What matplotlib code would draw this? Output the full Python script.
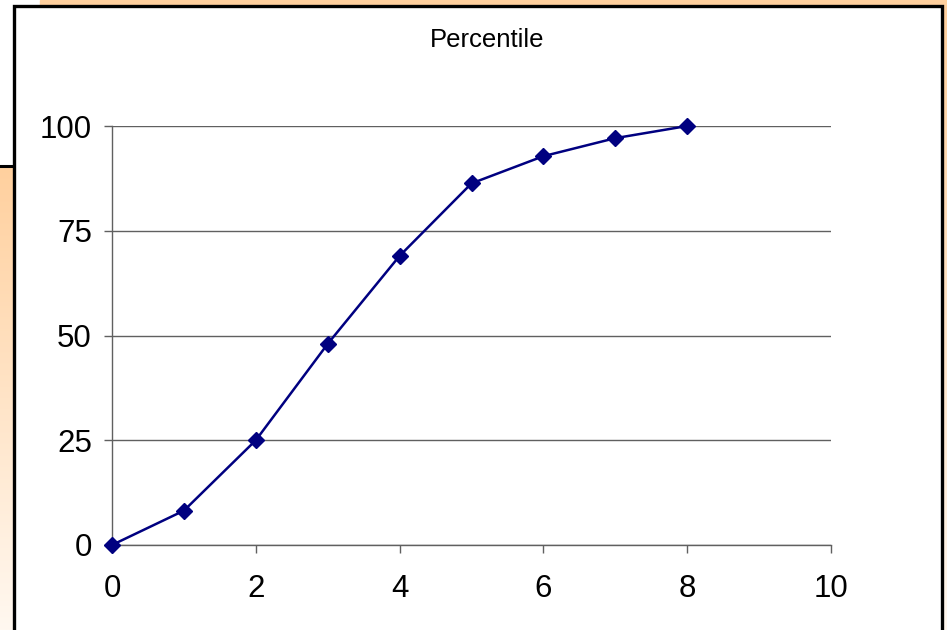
import numpy as np
import matplotlib
matplotlib.use('Agg')
import matplotlib.pyplot as plt
from matplotlib.patches import Rectangle

plt.rcParams['font.family'] = ['Liberation Sans', 'DejaVu Sans']

# 累计百分位数据
x_vals = [0, 1, 2, 3, 4, 5, 6, 7, 8]
percentile = [0, 8.2, 25, 48, 69, 86.3, 92.8, 97.1, 100]
x_ticks = [0, 2, 4, 6, 8, 10]
y_ticks = [0, 25, 50, 75, 100]
title_text = 'Percentile'

W, H = 947, 630
fig = plt.figure(figsize=(W / 100, H / 100), dpi=100, facecolor='white')

# 背景层（幻灯片底色 + 图表边框），按像素坐标画
bg = fig.add_axes([0, 0, 1, 1], zorder=0)
bg.set_xlim(0, W)
bg.set_ylim(H, 0)
bg.axis('off')

orange = '#FFD09E'
grad = np.linspace(0, 1, 256).reshape(-1, 1)
cmap = matplotlib.colors.LinearSegmentedColormap.from_list('fade', [orange, '#FFF8F0'])
bg.imshow(grad, cmap=cmap, extent=[0, 13, H, 166], aspect='auto', zorder=1)
bg.imshow(grad, cmap=cmap, extent=[943, W, H, 0], aspect='auto', zorder=1)
bg.add_patch(Rectangle((40, 0), W - 40, 6, color=orange, zorder=1))
bg.plot([0, 14], [166, 166], color='black', lw=2.2, zorder=2)
bg.add_patch(Rectangle((14, 6), 928, H, facecolor='white', edgecolor='black', lw=2.4, zorder=2))
bg.set_xlim(0, W)
bg.set_ylim(H, 0)

# 主图
ax = fig.add_axes([112 / W, 1 - 545 / H, (831 - 112) / W, (545 - 126) / H], zorder=1)
ax.set_facecolor('none')
ax.plot(x_vals, percentile, color='#000080', lw=1.8, marker='D', markersize=7.8,
        clip_on=False, zorder=3)

ax.set_xlim(0, 10)
ax.set_ylim(0, 100)
ax.set_xticks(x_ticks)
ax.set_yticks(y_ticks)
ax.yaxis.grid(True, color='#606060', lw=1.0)
ax.set_axisbelow(True)

for s in ['top', 'right']:
    ax.spines[s].set_visible(False)
for s in ['left', 'bottom']:
    ax.spines[s].set_color('#606060')
    ax.spines[s].set_linewidth(1.0)

ax.tick_params(axis='both', direction='out', length=6, width=1.0, color='#606060',
               labelsize=22.5, labelcolor='black')
ax.tick_params(axis='y', pad=8.5)
ax.tick_params(axis='x', pad=15)

fig.text(487 / W, 1 - 40 / H, title_text, ha='center', va='center', fontsize=18.5)

fig.savefig('out.png', dpi=100)
